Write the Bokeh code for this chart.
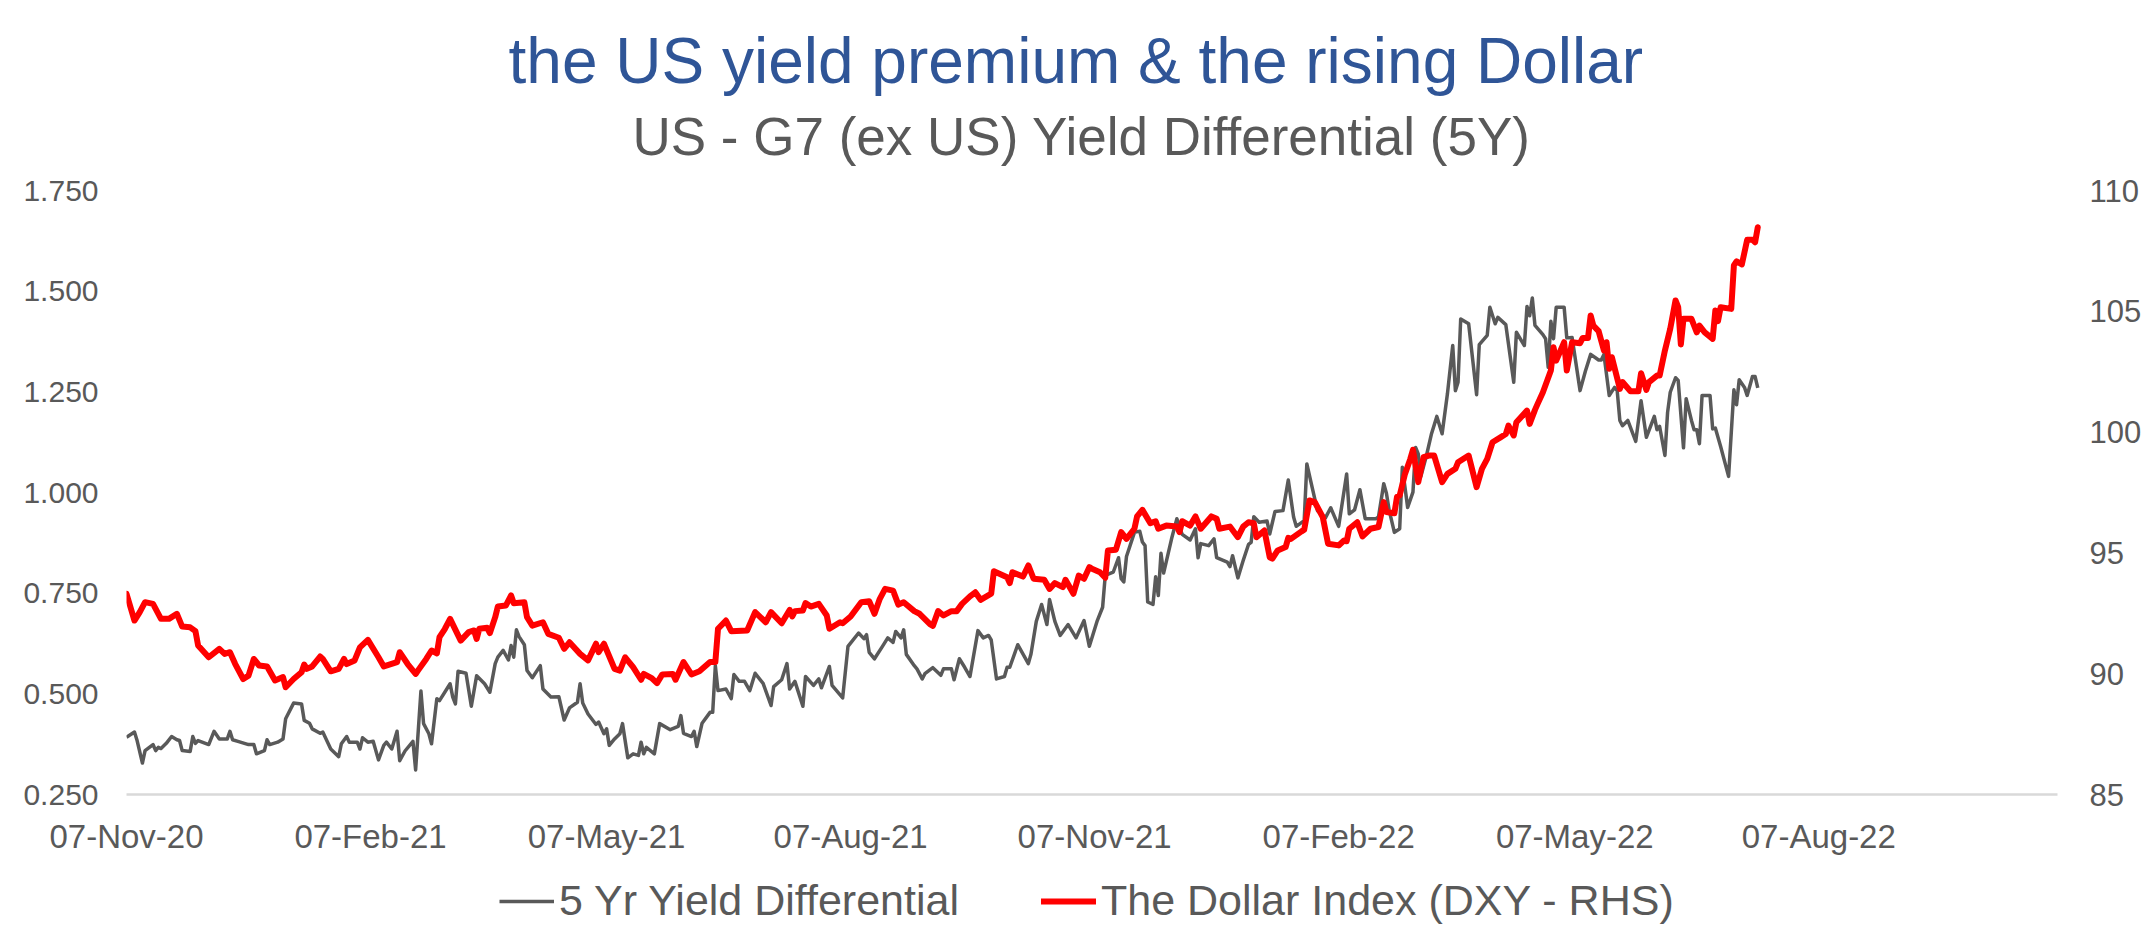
import pandas as pd
from bokeh.plotting import figure
from bokeh.layouts import column
from bokeh.models import (LinearAxis, Range1d, FixedTicker, NumeralTickFormatter, Label,
                          DatetimeTickFormatter, Legend, LegendItem, ColumnDataSource)
from bokeh.embed import file_html
from bokeh.resources import INLINE

# ---------------- data ----------------
start_date = "2020-11-07"
end_date = "2022-11-05"

# 5 Yr yield differential: days after 07-Nov-20 and value (%)
yield_days = [0, 3, 4, 6, 7, 10, 11, 12, 13, 15, 17, 19, 20, 21, 24, 25, 26, 27, 31, 33,
              35, 38, 39, 40, 42, 46, 48, 49, 52, 53, 54, 57, 59, 60, 63, 66, 67, 69, 70, 73,
              74, 77, 80, 81, 83, 84, 87, 88, 89, 91, 93, 95, 97, 98, 100, 102, 103, 105, 108, 109,
              111, 112, 114, 115, 117, 118, 122, 123, 124, 125, 128, 130, 132, 135, 137, 139, 140, 142, 144, 145,
              146, 147, 148, 150, 151, 153, 156, 157, 160, 163, 165, 167, 170, 171, 172, 174, 177, 178, 180, 181,
              182, 184, 186, 187, 189, 191, 193, 194, 195, 196, 199, 201, 205, 208, 209, 210, 213, 214, 215, 217,
              220, 221, 222, 223, 226, 228, 229, 231, 233, 235, 237, 240, 243, 244, 247, 249, 250, 252, 255, 256,
              259, 261, 262, 265, 266, 270, 272, 276, 278, 279, 280, 282, 285, 287, 289, 290, 292, 293, 294, 297,
              298, 300, 301, 304, 307, 308, 311, 312, 314, 316, 318, 321, 323, 325, 326, 328, 331, 332, 333, 336,
              340, 341, 343, 345, 347, 348, 350, 352, 355, 358, 361, 363, 366, 368, 369, 372, 374, 375, 376, 377,
              380, 382, 383, 384, 385, 387, 388, 389, 390, 391, 394, 396, 397, 398, 401, 403, 404, 405, 408, 410,
              411, 415, 416, 417, 419, 421, 423, 424, 425, 427, 430, 431, 433, 436, 438, 440, 441, 444, 445, 447,
              449, 452, 454, 457, 460, 461, 463, 465, 467, 471, 472, 474, 475, 476, 478, 480, 481, 483, 485, 486,
              487, 488, 490, 492, 494, 496, 498, 500, 501, 502, 503, 506, 509, 510, 513, 514, 516, 517, 520, 523,
              524, 527, 528, 529, 530, 531, 534, 535, 536, 537, 538, 539, 542, 543, 545, 548, 550, 552, 555, 556,
              557, 559, 561, 562, 563, 564, 566, 569, 571, 573, 576, 577, 578, 580, 581, 582, 584, 585, 587, 588,
              590, 591, 592, 593, 594, 597, 598, 599, 601, 604, 606, 607, 608, 610, 611, 613, 614, 615]
yield_vals = [0.392, 0.405, 0.384, 0.328, 0.359, 0.374, 0.359, 0.367, 0.364, 0.377, 0.394, 0.386, 0.384, 0.359, 0.357, 0.394, 0.377, 0.384, 0.374, 0.407,
              0.388, 0.388, 0.407, 0.386, 0.382, 0.374, 0.374, 0.351, 0.359, 0.386, 0.374, 0.380, 0.388, 0.438, 0.477, 0.475, 0.434, 0.427, 0.413, 0.402,
              0.405, 0.363, 0.344, 0.376, 0.394, 0.380, 0.380, 0.363, 0.391, 0.380, 0.382, 0.336, 0.372, 0.380, 0.363, 0.407, 0.334, 0.358, 0.382, 0.311,
              0.507, 0.426, 0.401, 0.376, 0.488, 0.483, 0.525, 0.492, 0.475, 0.556, 0.551, 0.469, 0.545, 0.525, 0.504, 0.575, 0.591, 0.608, 0.584, 0.620,
              0.591, 0.659, 0.642, 0.622, 0.558, 0.540, 0.570, 0.512, 0.492, 0.493, 0.435, 0.465, 0.479, 0.525, 0.477, 0.450, 0.424, 0.430, 0.401, 0.413,
              0.372, 0.388, 0.401, 0.426, 0.341, 0.351, 0.347, 0.380, 0.351, 0.367, 0.351, 0.426, 0.411, 0.419, 0.446, 0.402, 0.394, 0.407, 0.369, 0.427,
              0.454, 0.454, 0.570, 0.508, 0.512, 0.488, 0.548, 0.531, 0.531, 0.508, 0.551, 0.526, 0.471, 0.518, 0.535, 0.575, 0.512, 0.531, 0.469, 0.543,
              0.521, 0.537, 0.515, 0.568, 0.521, 0.490, 0.618, 0.651, 0.637, 0.647, 0.603, 0.587, 0.618, 0.639, 0.628, 0.655, 0.639, 0.659, 0.598, 0.570,
              0.562, 0.537, 0.550, 0.565, 0.546, 0.562, 0.562, 0.535, 0.587, 0.566, 0.543, 0.657, 0.639, 0.645, 0.634, 0.537, 0.543, 0.566, 0.566, 0.622,
              0.575, 0.599, 0.680, 0.722, 0.672, 0.734, 0.680, 0.645, 0.672, 0.639, 0.682, 0.618, 0.682, 0.715, 0.794, 0.802, 0.838, 0.786, 0.778, 0.841,
              0.901, 0.904, 0.877, 0.868, 0.728, 0.722, 0.791, 0.744, 0.849, 0.800, 0.885, 0.935, 0.914, 0.896, 0.882, 0.910, 0.838, 0.873, 0.868, 0.885,
              0.838, 0.827, 0.816, 0.843, 0.788, 0.831, 0.871, 0.876, 0.940, 0.926, 0.929, 0.897, 0.953, 0.955, 1.031, 0.939, 0.916, 0.930, 1.071, 1.013,
              0.955, 0.937, 0.962, 0.916, 1.046, 0.947, 0.957, 1.007, 0.935, 0.935, 0.939, 1.022, 0.998, 0.957, 0.901, 0.910, 1.063, 0.963, 1.001, 1.112,
              1.096, 1.040, 1.089, 1.146, 1.189, 1.146, 1.245, 1.365, 1.253, 1.274, 1.431, 1.419, 1.243, 1.367, 1.390, 1.460, 1.419, 1.435, 1.417, 1.274,
              1.398, 1.365, 1.462, 1.439, 1.483, 1.415, 1.392, 1.382, 1.311, 1.425, 1.382, 1.460, 1.460, 1.384, 1.385, 1.253, 1.301, 1.343, 1.329, 1.329,
              1.343, 1.241, 1.261, 1.253, 1.179, 1.166, 1.179, 1.127, 1.228, 1.137, 1.189, 1.156, 1.164, 1.092, 1.199, 1.249, 1.285, 1.278, 1.111, 1.233,
              1.179, 1.156, 1.156, 1.121, 1.241, 1.241, 1.158, 1.160, 1.114, 1.040, 1.255, 1.218, 1.280, 1.261, 1.241, 1.288, 1.288, 1.260]

# Dollar index (DXY, right-hand scale): days after 07-Nov-20 and level
dxy_days = [0, 3, 5, 7, 10, 13, 16, 19, 21, 24, 26, 27, 31, 35, 37, 39, 41, 44, 46, 48,
            50, 53, 56, 59, 60, 63, 66, 67, 68, 70, 73, 74, 77, 80, 82, 83, 86, 88, 91, 95,
            97, 102, 103, 106, 109, 110, 113, 115, 117, 118, 120, 122, 126, 129, 131, 132, 133, 136, 137, 139,
            140, 143, 145, 146, 150, 151, 153, 157, 159, 163, 165, 167, 171, 174, 177, 178, 180, 184, 186, 188,
            191, 194, 195, 198, 200, 202, 206, 207, 210, 213, 216, 220, 222, 223, 226, 228, 234, 237, 241, 243,
            247, 250, 251, 252, 255, 256, 258, 261, 264, 265, 269, 270, 273, 277, 280, 282, 284, 286, 289, 291,
            293, 297, 299, 303, 304, 306, 308, 311, 313, 315, 318, 320, 322, 326, 327, 332, 333, 334, 338, 340,
            342, 346, 348, 350, 353, 354, 357, 359, 361, 363, 364, 367, 369, 370, 373, 375, 377, 380, 381, 383,
            386, 388, 389, 392, 396, 397, 398, 401, 403, 405, 409, 411, 412, 416, 419, 421, 423, 425, 426, 429,
            431, 432, 434, 437, 438, 439, 443, 444, 446, 448, 451, 453, 457, 459, 460, 461, 464, 466, 469, 472,
            474, 475, 478, 479, 480, 482, 484, 485, 487, 489, 491, 493, 496, 498, 501, 502, 506, 509, 511, 513,
            515, 518, 520, 521, 523, 524, 528, 529, 531, 532, 534, 537, 538, 539, 542, 543, 545, 548, 549, 551,
            552, 553, 555, 557, 558, 559, 560, 563, 564, 567, 570, 571, 573, 574, 577, 578, 580, 582, 584, 585,
            586, 587, 590, 592, 593, 595, 598, 599, 600, 601, 605, 606, 607, 609, 611, 613, 614, 615]
dxy_vals = [93.31, 92.20, 92.55, 92.96, 92.89, 92.27, 92.27, 92.48, 91.95, 91.92, 91.76, 91.17, 90.68, 91.03, 90.82, 90.89, 90.40, 89.78, 89.92, 90.61,
            90.34, 90.30, 89.72, 89.86, 89.44, 89.78, 90.06, 90.38, 90.20, 90.30, 90.71, 90.61, 90.10, 90.20, 90.61, 90.40, 90.55, 91.09, 91.40, 90.68,
            90.30, 90.48, 90.89, 90.40, 89.99, 90.15, 90.61, 90.96, 90.84, 91.51, 91.85, 92.27, 91.37, 91.72, 91.79, 91.44, 91.86, 91.90, 91.68, 92.34,
            92.78, 92.82, 93.24, 92.92, 92.96, 92.34, 91.99, 92.13, 91.65, 91.49, 91.03, 91.30, 90.82, 90.55, 91.24, 90.89, 91.24, 90.20, 90.13, 90.68,
            90.27, 89.75, 89.99, 89.82, 89.61, 89.97, 89.99, 89.75, 90.48, 89.97, 90.10, 90.48, 90.48, 91.86, 92.20, 91.76, 91.79, 92.55, 92.13, 92.55,
            92.09, 92.64, 92.37, 92.59, 92.62, 92.92, 92.78, 92.89, 92.41, 91.86, 92.13, 92.09, 92.37, 92.96, 93.00, 92.48, 93.10, 93.51, 93.44, 92.86,
            92.96, 92.59, 92.48, 92.04, 91.98, 92.59, 92.41, 92.59, 92.59, 92.89, 93.20, 93.37, 93.06, 93.31, 94.24, 93.99, 93.75, 94.20, 94.02, 94.48,
            93.93, 93.89, 93.51, 93.75, 93.58, 93.89, 93.31, 94.06, 93.93, 94.41, 94.34, 94.20, 93.97, 95.10, 95.13, 95.86, 95.58, 96.00, 96.51, 96.78,
            96.23, 96.31, 96.00, 96.13, 96.09, 95.86, 96.31, 96.13, 96.51, 96.00, 96.51, 96.41, 96.00, 96.09, 95.65, 96.09, 96.27, 96.23, 95.65, 95.93,
            94.82, 94.76, 95.10, 95.24, 95.62, 95.58, 95.89, 95.96, 97.17, 97.10, 96.48, 95.38, 95.31, 95.51, 95.48, 96.00, 96.27, 95.68, 96.00, 96.07,
            97.10, 96.69, 96.64, 97.33, 97.38, 98.27, 98.89, 99.27, 97.93, 98.96, 99.03, 99.03, 97.93, 98.27, 98.48, 98.75, 99.03, 97.72, 98.48, 98.89,
            99.58, 99.78, 99.92, 100.27, 99.86, 100.41, 100.89, 100.34, 100.92, 101.17, 101.65, 102.55, 103.51, 102.96, 103.72, 102.55, 103.72, 103.68, 103.90, 103.90,
            104.83, 104.41, 104.18, 103.38, 103.72, 102.62, 103.10, 101.79, 102.07, 101.69, 101.69, 102.44, 101.75, 102.07, 102.34, 102.34, 103.38, 104.28, 105.45, 105.17,
            103.63, 104.69, 104.69, 104.13, 104.41, 104.13, 103.86, 105.03, 104.59, 105.17, 105.10, 106.90, 107.07, 106.94, 107.96, 107.96, 107.86, 108.48]

tick_dates = ["2020-11-07", "2021-02-07", "2021-05-07", "2021-08-07",
              "2021-11-07", "2022-02-07", "2022-05-07", "2022-08-07"]
left_ticks = [0.25, 0.5, 0.75, 1.0, 1.25, 1.5, 1.75]
right_ticks = [85, 90, 95, 100, 105, 110]

title_text = "the US yield premium & the rising Dollar"
subtitle_text = "US - G7 (ex US) Yield Differential (5Y)"
series_names = ["5 Yr Yield Differential", "The Dollar Index (DXY - RHS)"]

# ---------------- build ----------------
FONT = "Liberation Sans"
GREY_TXT = "#595959"
RED = "#FF0000"
W = 2147
BL, BR = 126, 90          # frame margins shared by all three strips
FRAME_R = W - BR
TITLE_H = 170
FRAME_TOP = 190

def bare_strip(height):
    f = figure(width=W, height=height, output_backend="svg", toolbar_location=None,
               x_axis_location=None, y_axis_location=None,
               x_range=Range1d(BL, FRAME_R), y_range=Range1d(height, 0),
               min_border_left=BL, min_border_right=BR, min_border_top=0, min_border_bottom=0)
    f.outline_line_color = None
    f.xgrid.visible = False
    f.ygrid.visible = False
    f.border_fill_color = "white"
    f.background_fill_color = "white"
    return f

# --- title strip (page pixels used as data units) ---
tf = bare_strip(TITLE_H)
tf.add_layout(Label(x=508, y=60, text=title_text, text_align="left", text_baseline="middle",
                    text_font=FONT, text_font_size="64px", text_color="#2F5597"))
tf.add_layout(Label(x=632, y=136, text=subtitle_text, text_align="left", text_baseline="middle",
                    text_font=FONT, text_font_size="53px", text_color=GREY_TXT))

# --- main chart ---
t0 = pd.Timestamp(start_date)
yield_src = ColumnDataSource(dict(x=t0 + pd.to_timedelta(yield_days, unit="D"), y=yield_vals))
dxy_src = ColumnDataSource(dict(x=t0 + pd.to_timedelta(dxy_days, unit="D"), y=dxy_vals))

p = figure(width=W, height=688, x_axis_type="datetime",
           x_range=Range1d(pd.Timestamp(start_date), pd.Timestamp(end_date)),
           y_range=Range1d(left_ticks[0], left_ticks[-1]),
           output_backend="svg", toolbar_location=None,
           min_border_left=BL, min_border_right=BR, min_border_top=FRAME_TOP - TITLE_H,
           min_border_bottom=64)
p.extra_y_ranges = {"dxy": Range1d(right_ticks[0], right_ticks[-1])}
p.outline_line_color = None
p.xgrid.visible = False
p.ygrid.visible = False
p.background_fill_color = "white"
p.border_fill_color = "white"

line_style = [dict(line_color="#595959", line_width=3.5, line_join="round"),
              dict(line_color=RED, line_width=6, line_join="round", line_cap="round")]
p.line("x", "y", source=yield_src, **line_style[0])
p.line("x", "y", source=dxy_src, y_range_name="dxy", **line_style[1])

tick_ms = (pd.to_datetime(tick_dates).astype("int64") // 10**6).tolist()
xa = p.xaxis[0]
xa.ticker = FixedTicker(ticks=tick_ms)
fmt = "%d-%b-%y"
xa.formatter = DatetimeTickFormatter(days=fmt, months=fmt, years=fmt, hours=fmt, hourmin=fmt)
xa.axis_line_color = "#D9D9D9"
xa.axis_line_width = 2.5
xa.major_label_standoff = 23

ya = p.yaxis[0]
ya.ticker = FixedTicker(ticks=left_ticks)
ya.formatter = NumeralTickFormatter(format="0.000")
ya.axis_line_color = None
ya.major_label_standoff = 28

ra = LinearAxis(y_range_name="dxy", ticker=FixedTicker(ticks=right_ticks))
ra.axis_line_color = None
ra.major_label_standoff = 32
p.add_layout(ra, "right")

for ax, fs in ((xa, "33px"), (ya, "30px"), (ra, "31px")):
    ax.major_tick_line_color = None
    ax.minor_tick_line_color = None
    ax.major_tick_out = 0
    ax.major_tick_in = 0
    ax.minor_tick_out = 0
    ax.major_label_text_font = FONT
    ax.major_label_text_font_size = fs
    ax.major_label_text_color = GREY_TXT

# --- legend strip ---
lf = bare_strip(80)
lf.y_range = Range1d(0, 1)
lf.x_range = Range1d(0, 1)
lr1 = lf.line(x=[-5, -4], y=[-5, -4], **line_style[0])   # legend keys only (outside view)
lr2 = lf.line(x=[-5, -4], y=[-5, -4], **line_style[1])
legend = Legend(items=[LegendItem(label=series_names[0], renderers=[lr1]),
                       LegendItem(label=series_names[1], renderers=[lr2])],
                orientation="horizontal", location=(373, 13),
                label_text_font=FONT, label_text_font_size="43px", label_text_color=GREY_TXT,
                glyph_width=55, glyph_height=24, label_standoff=5, spacing=82,
                padding=0, margin=0, border_line_color=None, background_fill_alpha=0)
lf.add_layout(legend, "center")

layout = column(tf, p, lf, spacing=0)
open("out.html", "w").write(file_html(layout, INLINE))
